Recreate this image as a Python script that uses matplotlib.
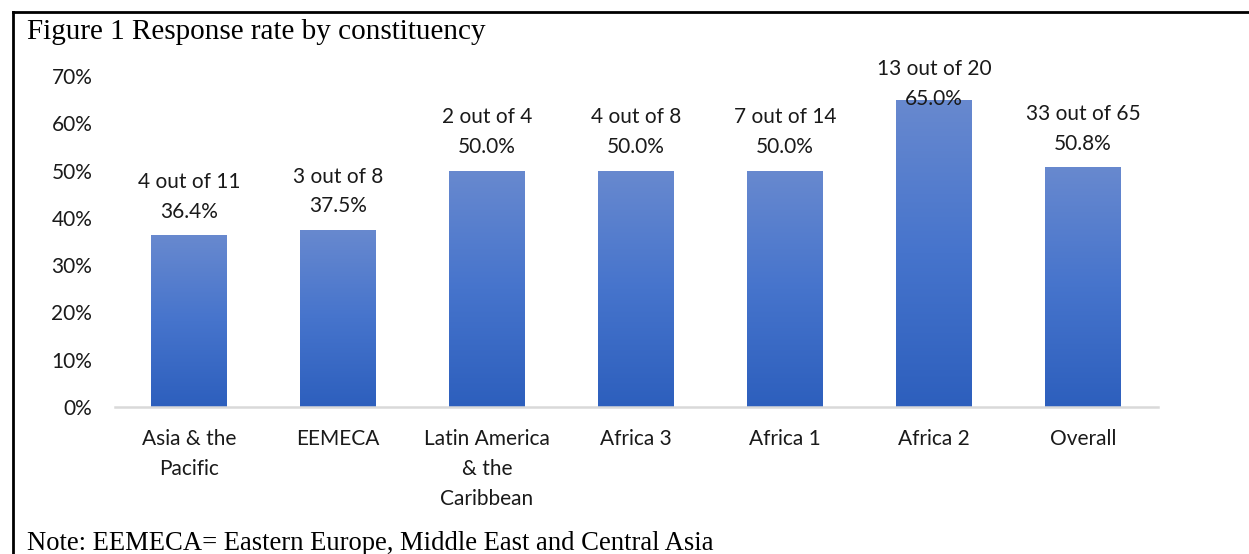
import numpy as np
import matplotlib.pyplot as plt
from matplotlib.colors import LinearSegmentedColormap
from matplotlib.lines import Line2D

# Response counts per constituency
categories = ['Asia & the\nPacific', 'EEMECA', 'Latin America\n& the\nCaribbean',
              'Africa 3', 'Africa 1', 'Africa 2', 'Overall']
responded = [4, 3, 2, 4, 7, 13, 33]
invited = [11, 8, 4, 8, 14, 20, 65]
rates = [r / n for r, n in zip(responded, invited)]

label_font = 'Lato'
serif_font = 'Liberation Serif'
fs = 15

fig = plt.figure(figsize=(12.49, 5.54), dpi=100)
W, H = 1249, 554
ax = fig.add_axes([114.5 / W, 1 - 407 / H, (1157.5 - 114.5) / W, (407 - 76) / H])

x = np.arange(len(categories))
bars = ax.bar(x, rates, width=0.51, color='none', edgecolor='none', zorder=2)

# vertical gradient fill, lighter at the top of each bar
grad = LinearSegmentedColormap.from_list('bar', ['#2d5fbd', '#4674cc', '#6889cf'])
g = np.linspace(0, 1, 256).reshape(-1, 1)
for b in bars:
    x0, w, h = b.get_x(), b.get_width(), b.get_height()
    im = ax.imshow(g, cmap=grad, origin='lower', aspect='auto',
                   extent=[x0, x0 + w, 0, h], zorder=2)
    im.set_clip_path(b)

ax.set_xlim(-0.5, len(categories) - 0.5)
ax.set_ylim(0, 0.7)

for i, (r, n, v) in enumerate(zip(responded, invited, rates)):
    txt = f'{r} out of {n}\n{v * 100:.1f}%'
    # labels near the top of the plot area are pushed down onto the bar
    off = 9.5 if v < 0.6 else -6.5
    ax.annotate(txt, (i, v), xytext=(0, off), textcoords='offset points',
                ha='center', va='bottom', fontsize=fs, family=label_font,
                linespacing=1.62, color='#1a1a1a', zorder=3, annotation_clip=False)

ticks = np.arange(0, 0.71, 0.1)
ax.set_yticks(ticks)
ax.set_yticklabels([f'{int(round(t * 100))}%' for t in ticks],
                   fontsize=fs, family=label_font, color='#1a1a1a')
ax.set_xticks(x)
ax.set_xticklabels(categories, fontsize=fs, family=label_font,
                   color='#1a1a1a', linespacing=1.62)
ax.tick_params(axis='both', length=0)
ax.tick_params(axis='y', pad=16)
ax.tick_params(axis='x', pad=16)

for s in ['top', 'right', 'left']:
    ax.spines[s].set_visible(False)
ax.spines['bottom'].set_color('#d9d9d9')
ax.spines['bottom'].set_linewidth(1.8)

# frame lines, title and note
fig.add_artist(Line2D([13 / W, 1], [1 - 12 / H, 1 - 12 / H], color='black', lw=2))
fig.add_artist(Line2D([13 / W, 13 / W], [0, 1 - 12 / H], color='black', lw=2))
fig.text(27 / W, 1 - 39 / H, 'Figure 1 Response rate by constituency',
         family=serif_font, fontsize=21, va='baseline', ha='left')
fig.text(27 / W, 1 - 550 / H, 'Note: EEMECA= Eastern Europe, Middle East and Central Asia',
         family=serif_font, fontsize=19.2, va='baseline', ha='left')

fig.savefig('out.png', dpi=100)
